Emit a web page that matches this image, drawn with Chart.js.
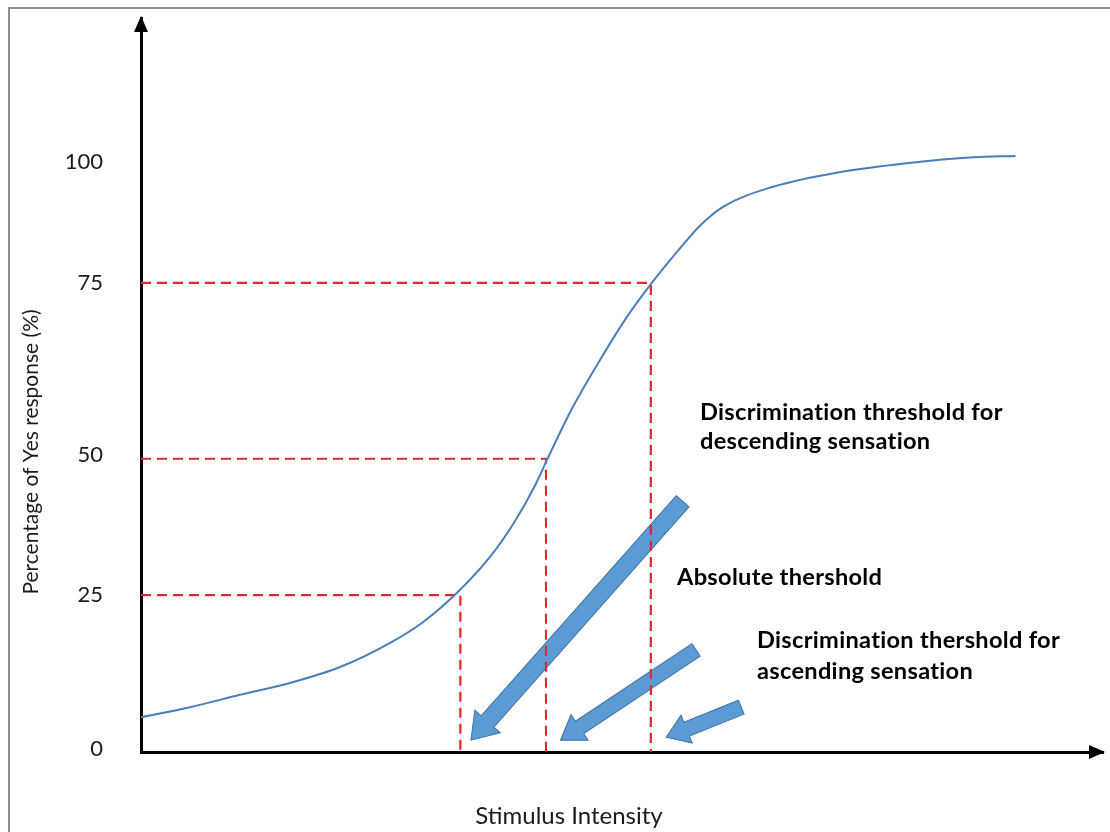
<!DOCTYPE html>
<html>
<head>
<meta charset="utf-8">
<script src="https://cdn.jsdelivr.net/npm/chart.js@4.4.1/dist/chart.umd.min.js"></script>
<style>
  html, body { margin: 0; padding: 0; background: #fff; }
  canvas { display: block; }
</style>
</head>
<body>
<canvas id="chart" width="1110" height="832"></canvas>
<script>
// Datos (unidades del eje, no píxeles)
const curveX = [0, 5.1, 10.3, 15.5, 20.7, 25.9, 29.3, 32.8, 36.3, 38.9, 41.0, 42.2, 44.9, 47.7, 50.5, 53.1, 56.0, 58.1, 60.5, 65.7, 72.7, 79.6, 86.5, 90.9];
const curveY = [5.9, 7.6, 9.7, 11.7, 14.4, 18.5, 22.0, 26.9, 33.1, 39.2, 45.3, 49.5, 58.5, 66.4, 73.7, 79.5, 85.3, 89.2, 92.4, 95.8, 98.3, 99.8, 100.8, 101.0];

// Umbrales (líneas discontinuas)
const thresholdX = [33.2, 42.1, 53.0];
const thresholdY = [26.6, 49.7, 79.5];

// Marcas del eje Y (la figura original no es lineal)
const yTickValues = [0.6, 26.6, 50.3, 79.5, 100];
const yTickLabels = ['0', '25', '50', '75', '100'];

// Flechas: cola -> punta
const arrowTailX = [56.3, 57.7, 62.4];
const arrowTailY = [42.5, 17.3, 7.6];
const arrowTipX = [34.3, 43.6, 54.6];
const arrowTipY = [2.0, 2.0, 2.5];

const notes = [
    ['Discrimination threshold for', 700, 412],
    ['descending sensation', 700, 441],
    ['Absolute thershold', 677, 577],
    ['Discrimination thershold for', 757, 640],
    ['ascending sensation', 757, 671]
];

const FONT = 'Lato, "Open Sans", sans-serif';

// Construir datasets
const curveData = curveX.map((x, i) => ({ x: x, y: curveY[i] }));
const dashedSets = thresholdX.map((x, i) => ({
    data: [{ x: 0, y: thresholdY[i] }, { x: x, y: thresholdY[i] }, { x: x, y: 0 }],
    borderColor: '#e5262b',
    borderWidth: 2.2,
    borderDash: [10, 6],
    pointRadius: 0,
    tension: 0,
    fill: false
}));

function fatArrow(ctx, x1, y1, x2, y2, shaft, headW, headL) {
    const ang = Math.atan2(y2 - y1, x2 - x1);
    const len = Math.hypot(x2 - x1, y2 - y1);
    ctx.save();
    ctx.translate(x1, y1);
    ctx.rotate(ang);
    ctx.beginPath();
    ctx.moveTo(0, -shaft / 2);
    ctx.lineTo(len - headL, -shaft / 2);
    ctx.lineTo(len - headL, -headW / 2);
    ctx.lineTo(len, 0);
    ctx.lineTo(len - headL, headW / 2);
    ctx.lineTo(len - headL, shaft / 2);
    ctx.lineTo(0, shaft / 2);
    ctx.closePath();
    ctx.fillStyle = '#5b9bd5';
    ctx.fill();
    ctx.strokeStyle = '#41719c';
    ctx.lineWidth = 1;
    ctx.stroke();
    ctx.restore();
}

// Fondo, marco y flechas gruesas
const backgroundPlugin = {
    id: 'background',
    beforeDraw(chart) {
        const ctx = chart.ctx;
        ctx.save();
        ctx.fillStyle = '#fff';
        ctx.fillRect(0, 0, chart.width, chart.height);
        ctx.strokeStyle = '#6b6b6b';
        ctx.lineWidth = 1.5;
        ctx.beginPath();
        ctx.moveTo(9, chart.height);
        ctx.lineTo(9, 8);
        ctx.lineTo(chart.width, 8);
        ctx.stroke();
        ctx.restore();
    },
    beforeDatasetsDraw(chart) {
        const { ctx, scales: { x, y } } = chart;
        const sizes = [[17, 34, 25], [15, 31, 23], [15, 30, 22]];
        arrowTailX.forEach((tx, i) => {
            fatArrow(ctx,
                x.getPixelForValue(tx), y.getPixelForValue(arrowTailY[i]),
                x.getPixelForValue(arrowTipX[i]), y.getPixelForValue(arrowTipY[i]),
                sizes[i][0], sizes[i][1], sizes[i][2]);
        });
    }
};

// Puntas de ejes, títulos y notas
const overlayPlugin = {
    id: 'overlay',
    afterDraw(chart) {
        const { ctx, chartArea: a } = chart;
        ctx.save();
        ctx.fillStyle = '#000';
        // punta eje Y
        ctx.beginPath();
        ctx.moveTo(a.left, a.top - 2);
        ctx.lineTo(a.left - 7, a.top + 14);
        ctx.lineTo(a.left + 7, a.top + 14);
        ctx.closePath();
        ctx.fill();
        // punta eje X
        ctx.beginPath();
        ctx.moveTo(a.right + 2, a.bottom);
        ctx.lineTo(a.right - 14, a.bottom - 7);
        ctx.lineTo(a.right - 14, a.bottom + 7);
        ctx.closePath();
        ctx.fill();

        ctx.fillStyle = '#1a1a1a';
        ctx.textAlign = 'center';
        ctx.textBaseline = 'middle';
        ctx.font = '24px ' + FONT;
        ctx.fillText('Stimulus Intensity', 569, 816);
        ctx.font = '21px ' + FONT;
        ctx.save();
        ctx.translate(31, 452);
        ctx.rotate(-Math.PI / 2);
        ctx.fillText('Percentage of Yes response (%)', 0, 0);
        ctx.restore();

        // sin ligaduras, como en la figura original
        ctx.letterSpacing = '0.3px';
        ctx.font = 'bold 23.6px ' + FONT;
        ctx.textAlign = 'left';
        ctx.fillStyle = '#000';
        notes.forEach(n => ctx.fillText(n[0], n[1], n[2]));
        ctx.restore();
    }
};

new Chart(document.getElementById('chart'), {
    type: 'line',
    data: {
        datasets: [{
            data: curveData,
            borderColor: '#4a7ebb',
            borderWidth: 2,
            pointRadius: 0,
            cubicInterpolationMode: 'monotone',
            fill: false
        }].concat(dashedSets)
    },
    options: {
        responsive: false,
        animation: false,
        devicePixelRatio: 1,
        layout: { padding: { left: 0, top: 18, right: 7, bottom: 0 } },
        plugins: {
            legend: { display: false },
            tooltip: { enabled: false }
        },
        scales: {
            x: {
                type: 'linear',
                min: 0,
                max: 100,
                grid: { display: false, drawTicks: false },
                border: { display: true, color: '#000', width: 3 },
                ticks: { display: false },
                afterFit: s => { s.height = 80; s.paddingLeft = 0; s.paddingRight = 0; }
            },
            y: {
                type: 'linear',
                min: 0,
                max: 124.4,
                grid: { display: false, drawTicks: false },
                border: { display: true, color: '#000', width: 3 },
                afterBuildTicks: s => { s.ticks = yTickValues.map(v => ({ value: v })); },
                ticks: {
                    padding: 38,
                    color: '#1a1a1a',
                    font: { family: FONT, size: 22 },
                    callback: (v, i) => yTickLabels[i]
                },
                afterFit: s => { s.width = 141; s.paddingTop = 0; s.paddingBottom = 0; }
            }
        }
    },
    plugins: [backgroundPlugin, overlayPlugin]
});
</script>
</body>
</html>
